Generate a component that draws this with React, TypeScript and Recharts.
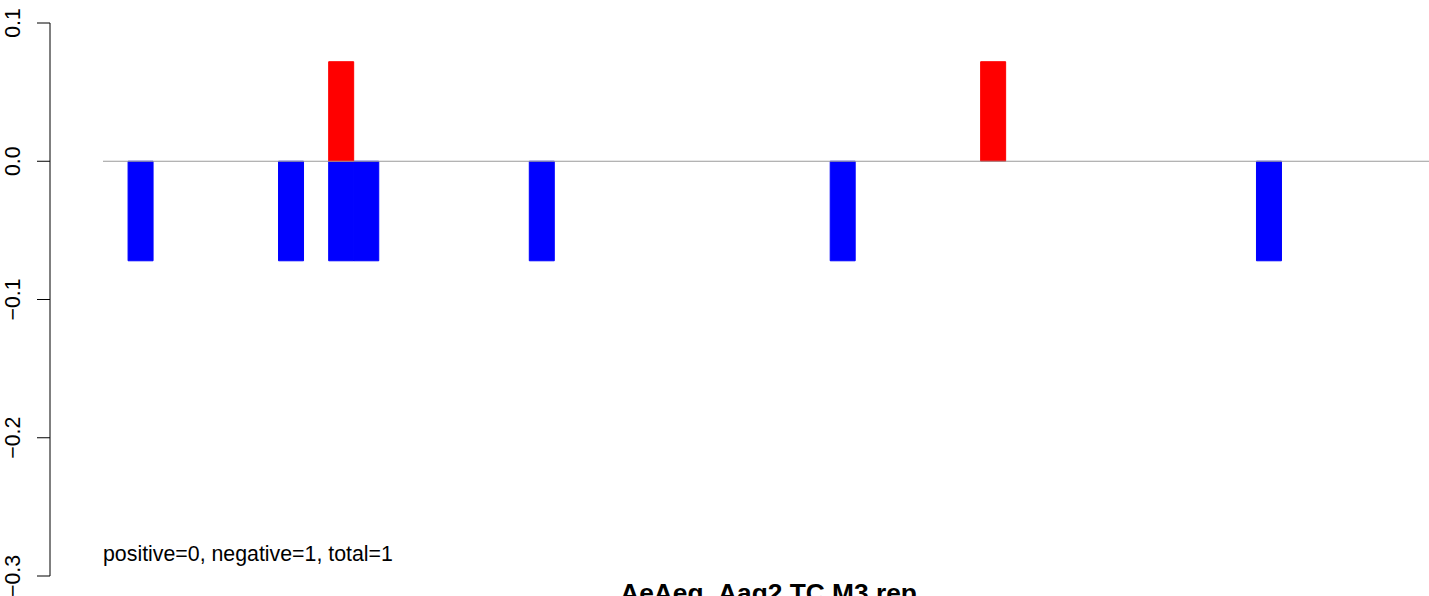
import React from "react";
import { BarChart, Bar, XAxis, YAxis, ReferenceLine } from "recharts";

// 53 position slots along the x range
const positions: string[] = [
  "1", "2", "3", "4", "5", "6", "7", "8", "9", "10",
  "11", "12", "13", "14", "15", "16", "17", "18", "19", "20",
  "21", "22", "23", "24", "25", "26", "27", "28", "29", "30",
  "31", "32", "33", "34", "35", "36", "37", "38", "39", "40",
  "41", "42", "43", "44", "45", "46", "47", "48", "49", "50",
  "51", "52", "53",
];

const negativeValues: (number | null)[] = [
  null, -0.072, null, null, null, null, null, -0.072, null, -0.072,
  -0.072, null, null, null, null, null, null, -0.072, null, null,
  null, null, null, null, null, null, null, null, null, -0.072,
  null, null, null, null, null, null, null, null, null, null,
  null, null, null, null, null, null, -0.072, null, null, null,
  null, null, null,
];

const positiveValues: (number | null)[] = [
  null, null, null, null, null, null, null, null, null, 0.072,
  null, null, null, null, null, null, null, null, null, null,
  null, null, null, null, null, null, null, null, null, null,
  null, null, null, null, null, 0.072, null, null, null, null,
  null, null, null, null, null, null, null, null, null, null,
  null, null, null,
];

const yTicks: number[] = [-0.3, -0.2, -0.1, 0.0, 0.1];
const yTickLabels: string[] = ["\u22120.3", "\u22120.2", "\u22120.1", "0.0", "0.1"];

const titleText = "AeAeg_Aag2 TC M3 rep";
const noteText = "positive=0, negative=1, total=1";

const data = positions.map((p, i) => ({
  pos: p,
  neg: negativeValues[i],
  plus: positiveValues[i],
}));

const FONT = "'Liberation Sans', Arial, Helvetica, sans-serif";

const RotTick = (props: any) => {
  const { x, y, payload } = props;
  const idx = yTicks.findIndex((t) => Math.abs(t - payload.value) < 1e-9);
  const label = idx >= 0 ? yTickLabels[idx] : String(payload.value);
  return (
    <text
      x={x}
      y={y}
      transform={`rotate(-90, ${x}, ${y})`}
      textAnchor="middle"
      fontSize={21.33}
      fontFamily={FONT}
      fill="#000"
    >
      {label}
    </text>
  );
};

export default function App() {
  return (
    <div
      style={{
        position: "absolute",
        left: 0,
        top: 0,
        width: 1429,
        height: 596,
        overflow: "hidden",
        background: "#fff",
      }}
    >
      <BarChart
        width={1432}
        height={596}
        data={data}
        margin={{ top: 23, right: 0, bottom: 20, left: 0 }}
        barCategoryGap={0}
        barGap={0}
        stackOffset="sign"
      >
        <XAxis dataKey="pos" hide />
        <YAxis
          yAxisId="a_pad"
          width={53}
          type="number"
          domain={[-0.3, 0.1]}
          allowDataOverflow
          ticks={yTicks}
          tick={false}
          axisLine={false}
          tickLine={false}
        />
        <YAxis
          yAxisId="b_main"
          width={50}
          type="number"
          domain={[-0.3, 0.1]}
          allowDataOverflow
          ticks={yTicks}
          interval={0}
          tickSize={13}
          tickMargin={17}
          axisLine={{ stroke: "#000", strokeWidth: 1 }}
          tickLine={{ stroke: "#000", strokeWidth: 1 }}
          tick={<RotTick />}
        />
        <Bar
          yAxisId="a_pad"
          dataKey="neg"
          stackId="s"
          fill="#0000FF"
          stroke="#0000FF"
          strokeWidth={1}
          isAnimationActive={false}
        />
        <Bar
          yAxisId="a_pad"
          dataKey="plus"
          stackId="s"
          fill="#FF0000"
          stroke="#FF0000"
          strokeWidth={1}
          isAnimationActive={false}
        />
        <ReferenceLine yAxisId="a_pad" y={0} stroke="#9a9a9a" strokeWidth={1} />
      </BarChart>
      <svg
        width={1429}
        height={596}
        style={{ position: "absolute", left: 0, top: 0, pointerEvents: "none" }}
      >
        <text x={103} y={560.5} fontSize={21.33} fontFamily={FONT} fill="#000">
          {noteText}
        </text>
        <text
          x={768.5}
          y={602}
          textAnchor="middle"
          fontSize={26.3}
          fontWeight="bold"
          fontFamily={FONT}
          fill="#000"
        >
          {titleText}
        </text>
      </svg>
    </div>
  );
}
